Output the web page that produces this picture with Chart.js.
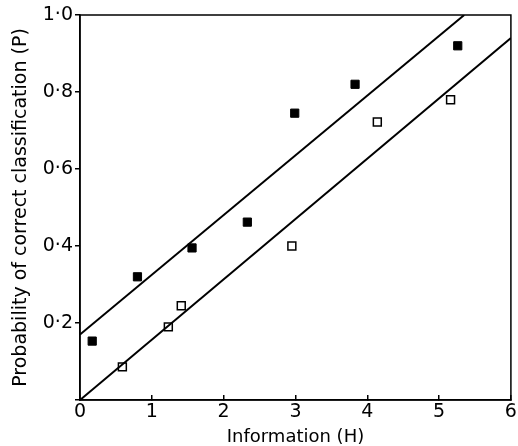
<!doctype html>
<html>

<head>
    <title>Information vs probability</title>
    <script src="https://cdn.jsdelivr.net/npm/chart.js"></script>
</head>

<style>
    body {
        margin: 0;
        background: #fff;
    }

    div {
        width: 518px;
        height: 446px;
    }
</style>

<body>

    <div>
        <canvas id="grafico" width="518" height="446"></canvas>
    </div>

    <script>
        // valores
        var cheioH = [0.17, 0.80, 1.56, 2.33, 2.99, 3.83, 5.26];
        var cheioP = [0.153, 0.32, 0.395, 0.462, 0.745, 0.82, 0.92];
        var vazioH = [0.59, 1.23, 1.41, 2.95, 4.14, 5.16];
        var vazioP = [0.086, 0.19, 0.245, 0.40, 0.722, 0.78];
        var retaSupH = [0, 5.35];
        var retaSupP = [0.17, 1.0];
        var retaInfH = [0, 6];
        var retaInfP = [0, 0.94];
        var ticksX = [0, 1, 2, 3, 4, 5, 6];
        var ticksY = [0, 0.2, 0.4, 0.6, 0.8, 1.0];

        function pontos(xs, ys) {
            return xs.map((x, i) => ({ x: x, y: ys[i] }));
        }

        var moldura = {
            id: 'moldura',
            afterDatasetsDraw(chart) {
                var a = chart.chartArea;
                var ctx = chart.ctx;
                ctx.save();
                ctx.strokeStyle = '#000';
                ctx.lineWidth = 1.5;
                ctx.strokeRect(a.left, a.top, a.right - a.left, a.bottom - a.top);
                ctx.restore();
            }
        };

        var fonte = 'DejaVu Sans';

        var grafico = new Chart(document.getElementById('grafico').getContext('2d'), {
            type: 'scatter',
            data: {
                datasets: [{
                    data: pontos(retaSupH, retaSupP),
                    showLine: true,
                    borderColor: '#000',
                    borderWidth: 2,
                    pointRadius: 0
                }, {
                    data: pontos(retaInfH, retaInfP),
                    showLine: true,
                    borderColor: '#000',
                    borderWidth: 2,
                    pointRadius: 0
                }, {
                    data: pontos(cheioH, cheioP),
                    pointStyle: 'rect',
                    pointRadius: 5.8,
                    backgroundColor: '#000',
                    borderColor: '#000',
                    borderWidth: 1
                }, {
                    data: pontos(vazioH, vazioP),
                    pointStyle: 'rect',
                    pointRadius: 5.6,
                    backgroundColor: '#fff',
                    borderColor: '#000',
                    borderWidth: 1.5
                }]
            },
            options: {
                responsive: false,
                animation: false,
                layout: {
                    padding: { top: 15, right: 3, left: 0, bottom: 0 }
                },
                plugins: {
                    legend: { display: false },
                    tooltip: { enabled: false }
                },
                scales: {
                    x: {
                        type: 'linear',
                        min: 0,
                        max: 6,
                        afterFit: (s) => {
                            s.height = 46;
                            s.paddingLeft = 0;
                            s.paddingRight = 0;
                        },
                        afterBuildTicks: (s) => { s.ticks = ticksX.map(v => ({ value: v })); },
                        grid: { display: true, drawOnChartArea: false, tickLength: -5, color: '#000', lineWidth: 1.5 },
                        border: { display: true, color: '#000', width: 1.5 },
                        ticks: {
                            color: '#000',
                            padding: 6,
                            maxRotation: 0,
                            font: { family: fonte, size: 19 }
                        },
                        title: {
                            display: true,
                            text: 'Information (H)',
                            color: '#000',
                            padding: 0,
                            font: { family: fonte, size: 18, lineHeight: 1 }
                        }
                    },
                    y: {
                        min: 0,
                        max: 1,
                        afterFit: (s) => {
                            s.width = 80;
                            s.paddingTop = 0;
                            s.paddingBottom = 0;
                        },
                        afterBuildTicks: (s) => { s.ticks = ticksY.map(v => ({ value: v })); },
                        grid: { display: true, drawOnChartArea: false, tickLength: 5, color: '#000', lineWidth: 1.5 },
                        border: { display: true, color: '#000', width: 1.5 },
                        ticks: {
                            color: '#000',
                            padding: 2,
                            font: { family: fonte, size: 19 },
                            callback: (v) => v === 0 ? '' : v.toFixed(1).replace('.', '·')
                        },
                        title: {
                            display: true,
                            text: 'Probability of correct classification (P)',
                            color: '#000',
                            padding: { top: 10, bottom: 0 },
                            font: { family: fonte, size: 19, lineHeight: 1.2 }
                        }
                    }
                }
            },
            plugins: [moldura]
        });
    </script>
</body>

</html>
